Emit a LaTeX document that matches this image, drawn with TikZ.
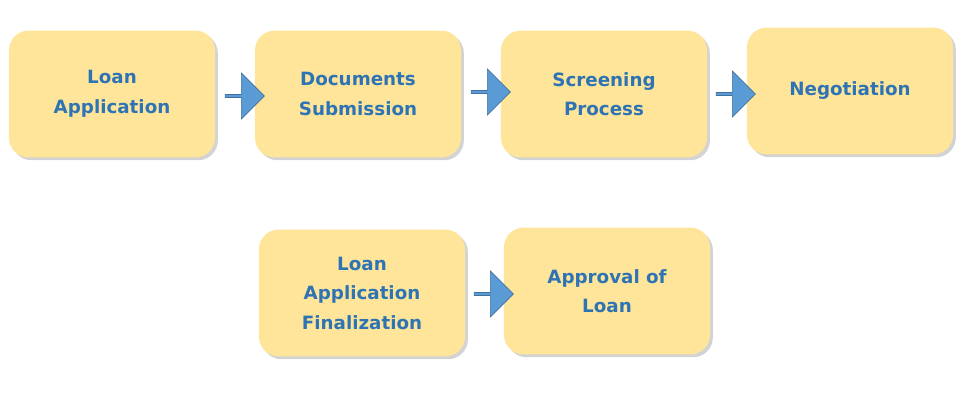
\documentclass[tikz,border=0pt]{standalone}
\usepackage{fontspec}
\setmainfont{DejaVu Sans}
\usetikzlibrary{positioning}
\usetikzlibrary{shapes.arrows}
\usetikzlibrary{shadows}
\definecolor{stepfill}{RGB}{254,229,153}
\definecolor{steptext}{RGB}{46,116,181}
\definecolor{arrowfill}{RGB}{91,155,213}
\definecolor{arrowline}{RGB}{65,113,156}

\tikzset{
  stage/.style={draw=none, fill=stepfill, rounded corners=14pt,
    minimum width=5.15cm, minimum height=3.17cm, align=center,
    text=steptext, font=\fontsize{13}{21}\selectfont\bfseries,
    drop shadow={shadow xshift=2pt, shadow yshift=-2pt, opacity=0.35}},
  flow/.style={single arrow, draw=arrowline, fill=arrowfill,
    minimum width=1.15cm, minimum height=0.98cm,
    single arrow head extend=0.1cm, inner sep=0pt}
}

\begin{document}
\begin{tikzpicture}[x=0.025cm, y=-0.025cm]
  \useasboundingbox (0,0) rectangle (972,402);

  % first row
  \node[stage] (apply)  at (112,94)  {Loan\\Application};
  \node[stage] (docs)   at (358,94)  {Documents\\Submission};
  \node[stage] (screen) at (604,94)  {Screening\\Process};
  \node[stage] (nego)   at (850,91)  {Negotiation};

  % second row
  \node[stage] (final)   at (362,293) {Loan\\Application\\Finalization};
  \node[stage] (approve) at (607,291) {Approval of\\Loan};

  % arrows
  \node[flow] (a1) at (244,96)  {};
  \node[flow] (a2) at (490,92)  {};
  \node[flow] (a3) at (735,94)  {};
  \node[flow] (a4) at (493,294) {};
\end{tikzpicture}
\end{document}
